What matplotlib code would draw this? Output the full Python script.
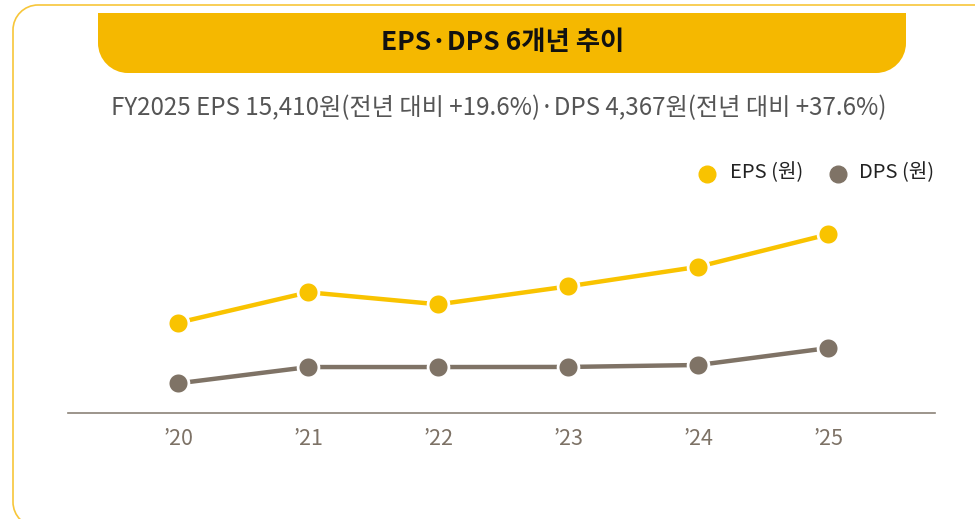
import matplotlib
matplotlib.use("Agg")
from matplotlib import pyplot as plt
from matplotlib.path import Path
from matplotlib.patches import PathPatch

plt.rcParams['font.family'] = ['Noto Sans CJK KR', 'DejaVu Sans']

# data
years = ["\u201920", "\u201921", "\u201922", "\u201923", "\u201924", "\u201925"]
eps = [6830, 9780, 8610, 10360, 12260, 15410]
dps = [940, 2520, 2520, 2530, 2720, 4367]

title = "EPS\u00b7DPS 6개년 추이"
subtitle = "FY2025 EPS 15,410원(전년 대비 +19.6%)\u00b7DPS 4,367원(전년 대비 +37.6%)"
legend_names = ["EPS (원)", "DPS (원)"]

eps_color = "#F9C300"
dps_color = "#7F7366"

W, H = 975, 519
fig = plt.figure(figsize=(W / 100, H / 100), dpi=100)

# overlay in pixel coords for the frame, banner and texts
bg = fig.add_axes([0, 0, 1, 1])
bg.set_xlim(0, W)
bg.set_ylim(H, 0)
bg.axis("off")

C = 0.5523

# outer frame, only the left part is inside the picture
fx, fy0, fy1, fr = 13, 5, 527, 25
frame_verts = [(1010, fy1), (fx + fr, fy1),
               (fx + fr - C * fr, fy1), (fx, fy1 - fr + C * fr), (fx, fy1 - fr),
               (fx, fy0 + fr),
               (fx, fy0 + fr - C * fr), (fx + fr - C * fr, fy0), (fx + fr, fy0),
               (1010, fy0)]
frame_codes = [Path.MOVETO, Path.LINETO,
               Path.CURVE4, Path.CURVE4, Path.CURVE4,
               Path.LINETO,
               Path.CURVE4, Path.CURVE4, Path.CURVE4,
               Path.LINETO]
bg.add_patch(PathPatch(Path(frame_verts, frame_codes), fill=False,
                       edgecolor="#F7C63A", linewidth=1.2))

# banner: flat top, rounded bottom corners
x0, x1, y0, y1, r = 98, 906, 13, 73, 30
k = C * r
verts = [(x0, y0), (x1, y0), (x1, y1 - r),
         (x1, y1 - r + k), (x1 - r + k, y1), (x1 - r, y1),
         (x0 + r, y1),
         (x0 + r - k, y1), (x0, y1 - r + k), (x0, y1 - r),
         (x0, y0)]
codes = [Path.MOVETO, Path.LINETO, Path.LINETO,
         Path.CURVE4, Path.CURVE4, Path.CURVE4,
         Path.LINETO,
         Path.CURVE4, Path.CURVE4, Path.CURVE4,
         Path.CLOSEPOLY]
bg.add_patch(PathPatch(Path(verts, codes), facecolor="#F5B800", edgecolor="none"))
bg.text(503, 43, title, ha="center", va="center", fontsize=19, fontweight="bold", color="#111111")

bg.text(499, 108, subtitle, ha="center", va="center", fontsize=17.4, color="#555555")

# legend
bg.plot([707], [174], "o", color=eps_color, markersize=12)
bg.text(730, 173, legend_names[0], ha="left", va="center", fontsize=14.5, color="#222222")
bg.plot([838], [174], "o", color=dps_color, markersize=12)
bg.text(859, 173, legend_names[1], ha="left", va="center", fontsize=14.5, color="#222222")

# main chart
ax = fig.add_axes([68 / W, (H - 413) / H, (935 - 68) / W, (413 - 215) / H])
ax.patch.set_alpha(0)
x = list(range(len(years)))
ax.plot(x, eps, "-o", color=eps_color, linewidth=3.2, markersize=15,
        markeredgecolor="white", markeredgewidth=2, zorder=3)
ax.plot(x, dps, "-o", color=dps_color, linewidth=3.2, markersize=15,
        markeredgecolor="white", markeredgewidth=2, zorder=3)
ax.set_xlim(-0.848, 5.819)
ax.set_ylim(-1942, 17284)
ax.set_yticks([])
ax.set_xticks(x)
ax.set_xticklabels(years, fontsize=15.5, color="#7D7266")
ax.tick_params(axis="x", length=0, pad=11)
for s in ["top", "left", "right"]:
    ax.spines[s].set_visible(False)
ax.spines["bottom"].set_color("#8B8378")
ax.spines["bottom"].set_linewidth(1.2)

fig.savefig("out.png", dpi=100)
